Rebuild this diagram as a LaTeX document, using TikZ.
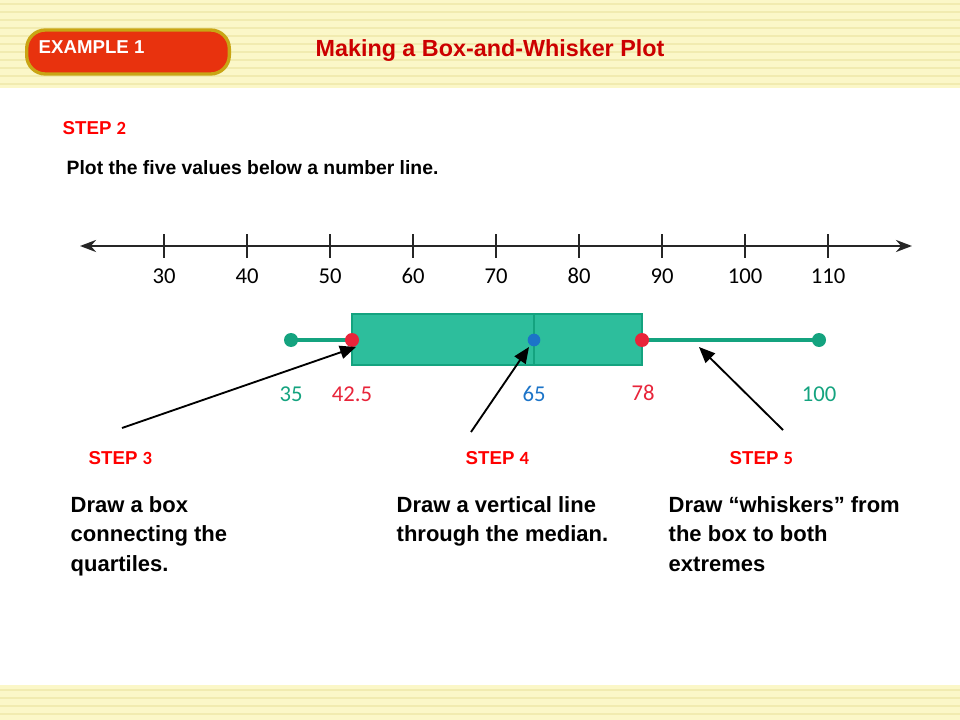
\documentclass[tikz,border=0pt]{standalone}
\usepackage{fontspec}
\setmainfont{Liberation Sans}
\newfontfamily\numfont[Numbers=Lining]{Carlito}
\usetikzlibrary{arrows.meta}
\definecolor{cream}{HTML}{FBF7C8}
\definecolor{creamline}{HTML}{F1EBB0}
\definecolor{boxgreen}{HTML}{2DBE9C}
\definecolor{boxedge}{HTML}{14A37F}
\definecolor{qred}{HTML}{E8243A}
\definecolor{mblue}{HTML}{1C74C8}
\definecolor{titlered}{HTML}{CC0000}
\definecolor{pillred}{HTML}{E8320E}
\definecolor{pillgold}{HTML}{C9A514}
\tikzset{
  steplabel/.style={anchor=west, text=red, font=\bfseries\fontsize{14}{16}\selectfont},
  bodytext/.style={anchor=north west, align=left, font=\bfseries\fontsize{16.5}{22}\selectfont},
  ticklabel/.style={anchor=base, font=\numfont\fontsize{17}{19}\selectfont},
  vallabel/.style={anchor=base, font=\numfont\fontsize{17}{19}\selectfont},
  dot/.style={circle, fill=#1, inner sep=0pt, minimum size=10.5pt},
  pointer/.style={-{Triangle[length=12pt,width=10pt]}, line width=1.4pt}
}
\begin{document}
\begin{tikzpicture}[x=0.75pt, y=-0.75pt]
\useasboundingbox (0,0) rectangle (960,720);
% backgrounds
\fill[cream] (0,0) rectangle (960,88);
\fill[cream] (0,685) rectangle (960,720);
\foreach \y in {4,12,...,84} \draw[creamline, line width=1.5pt] (0,\y) -- (960,\y);
\foreach \y in {690,698,...,718} \draw[creamline, line width=1.5pt] (0,\y) -- (960,\y);
% header
\node[draw=pillgold, line width=2.5pt, fill=pillred, rounded corners=14pt,
  minimum width=152pt, minimum height=33pt] (pill) at (128,52) {};
\node[anchor=west, text=white, font=\bfseries\fontsize{14}{16}\selectfont] (ex) at (34,47) {EXAMPLE 1};
\node[text=titlered, font=\bfseries\fontsize{17.5}{20}\selectfont] (title) at (490,51) {Making a Box-and-Whisker Plot};
\node[steplabel] (s2) at (58,128) {STEP {\numfont 2}};
\node[anchor=west, font=\bfseries\fontsize{14.5}{16}\selectfont] (plot) at (62,168) {Plot the five values below a number line.};
% number line
\coordinate (la) at (80,246);
\coordinate (ra) at (912,246);
\draw[{Stealth[length=12pt,width=9pt]}-{Stealth[length=12pt,width=9pt]}, line width=2.2pt, draw=black!85] (la) -- (ra);
\foreach \v [count=\i from 0] in {30,40,...,110} {
  \coordinate (t\v) at (164+83*\i,246);
  \draw[line width=2.2pt, draw=black!85] ([yshift=-9pt]t\v) -- ([yshift=9pt]t\v);
  \node[ticklabel] at (164+83*\i,284) {\v};
}
% box and whiskers
\coordinate (min) at (291,340);
\coordinate (q1) at (352,340);
\coordinate (med) at (534,340);
\coordinate (q3) at (642,340);
\coordinate (max) at (819,340);
\draw[boxedge, line width=2.5pt] (min) -- (q1);
\draw[boxedge, line width=2.5pt] (q3) -- (max);
\draw[fill=boxgreen, draw=boxedge, line width=1.8pt] (352,314) rectangle (642,365);
\draw[boxedge, line width=1.8pt] (534,314) -- (534,365);
\node[dot=boxedge] (dmin) at (min) {};
\node[dot=boxedge] (dmax) at (max) {};
\node[dot=qred] (dq1) at (q1) {};
\node[dot=qred] (dq3) at (q3) {};
\node[dot=mblue, minimum size=9.5pt] (dmed) at (med) {};
\node[vallabel, text=boxedge] at (291,401) {35};
\node[vallabel, text=qred] at (352,401) {42.5};
\node[vallabel, text=mblue] at (534,401) {65};
\node[vallabel, text=qred] at (643,400) {78};
\node[vallabel, text=boxedge] at (819,401) {100};
% steps
\node[steplabel] (s3) at (84,458) {STEP {\numfont 3}};
\node[steplabel] (s4) at (461,458) {STEP {\numfont 4}};
\node[steplabel] (s5) at (725,458) {STEP {\numfont 5}};
\coordinate (a3) at (122,428);
\coordinate (a4) at (471,432);
\coordinate (a5) at (783,430);
\draw[pointer] (a3) -- (356,347);
\draw[pointer] (a4) -- (529,347);
\draw[pointer] (a5) -- (699,347);
\node[bodytext] (b3) at (66,492) {Draw a box\\connecting the\\quartiles.};
\node[bodytext] (b4) at (392,492) {Draw a vertical line\\through the median.};
\node[bodytext] (b5) at (664,492) {Draw ``whiskers'' from\\the box to both\\extremes};
\end{tikzpicture}
\end{document}
